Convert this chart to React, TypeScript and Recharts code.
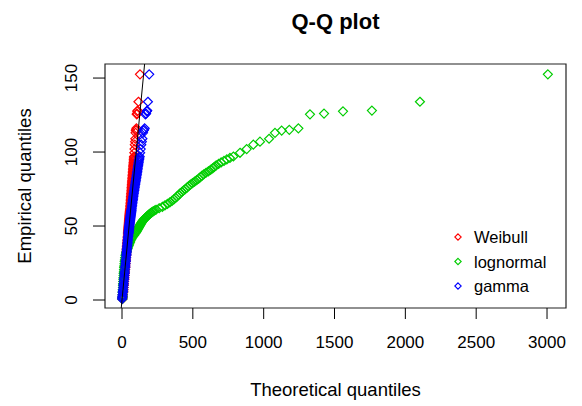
import { ReferenceArea, Scatter, ScatterChart, XAxis, YAxis } from 'recharts'

// sorted sample (empirical quantiles), shared by every fitted distribution
const empirical = [
  0.7, 1.5, 2.5, 3.5, 5, 6, 7, 8.5, 10, 11,
  12.5, 14, 15, 16.5, 18, 19, 20.5, 22, 23, 24.5,
  26, 27, 28.5, 30, 31, 32, 33, 34, 35, 36,
  37, 38, 39, 40, 41, 42, 43, 44, 45, 45.5,
  46, 46.5, 47, 47.5, 48, 48.5, 49, 49.5, 50, 50.5,
  51, 51.5, 52, 52.5, 53, 53.5, 54, 54.5, 55, 55.5,
  56, 56.5, 57, 57.5, 58, 58.5, 59, 59.5, 60, 60.5,
  61, 62, 63, 64, 65, 66, 67, 68, 69, 70,
  71, 72, 73, 74, 75, 76, 77, 78, 79, 80,
  81, 82, 83, 84, 85, 86, 87, 88, 89, 90,
  91, 92, 93, 94, 95, 96,
  97, 99.5, 102, 105, 107, 109, 113, 114.5, 115, 116, 125.5, 126, 127.5, 128, 134, 152.5,
]

// theoretical quantiles of each fit, same order as `empirical`
const weibullQ = [
  3, 4, 5, 6, 8, 9, 10, 11, 12.5, 13,
  14.5, 16, 16.5, 18, 19, 20, 21.5, 23, 23.5, 25,
  26, 27, 28, 29.5, 30, 31, 32, 33, 33.5, 34.5,
  35.5, 36.5, 37, 38, 39, 40, 41, 42, 42.5, 43,
  43.5, 44, 44.5, 45, 45.5, 45.8, 46, 46.5, 47, 47.5,
  48, 48.5, 49, 49.3, 49.5, 50, 50.5, 51, 51.5, 52,
  52.5, 52.8, 53, 53.5, 54, 54.5, 55, 55.5, 56, 56.5,
  57, 57.5, 58.5, 59, 60, 61, 61.5, 62.5, 63, 63.5,
  64.5, 65, 66, 67, 67.5, 68, 69, 70, 70.5, 71.5,
  72, 73, 74, 74.5, 75.5, 76.5, 77, 78, 78.5, 79.5,
  80, 81, 82, 83, 83.5, 84,
  85, 87, 88.5, 90.5, 92.5, 94, 96, 98, 100, 102, 104, 106, 108, 111, 116, 127,
]

const lognormalQ = [
  3, 3.5, 4, 4.5, 5, 5.5, 6, 7, 7.5, 8,
  9, 10, 10.5, 11.5, 12, 13, 14, 15, 16, 17.5,
  19, 20.5, 22, 25, 27, 30, 33, 36, 40, 44,
  48, 52, 56, 60, 65, 71, 78, 86, 93, 96,
  100, 103, 106, 109, 112, 115, 118, 121, 124, 127,
  130, 133, 136, 140, 143, 147, 151, 155, 160, 165,
  171, 176, 182, 188, 194, 200, 207, 214, 221, 230,
  240, 262, 285, 303, 321, 338, 353, 366, 378, 389,
  400, 410, 422, 434, 447, 459, 471, 483, 498, 512,
  527, 541, 553, 565, 578, 593, 610, 625, 640, 652,
  665, 682, 700, 720, 740, 762,
  786, 833, 880, 927, 974, 1038, 1080, 1127, 1181, 1245, 1327, 1426, 1560, 1764, 2103, 3006,
]

const gammaQ = [
  1, 2, 3, 4, 5.5, 6.5, 7.5, 9, 10.5, 11.5,
  13, 14.5, 15.5, 17, 18.5, 19.5, 21, 22.5, 23.5, 25,
  26.5, 27.5, 29, 30.5, 31.5, 32.5, 33.5, 34.5, 35.5, 36.5,
  37.5, 38.5, 39.5, 40.5, 41.5, 42.5, 43.5, 45, 46, 46.5,
  47, 47.5, 48, 48.8, 49.5, 50, 50.5, 51, 51.5, 52.3,
  53, 53.5, 54, 54.8, 55.5, 56.3, 57, 57.5, 58, 58.8,
  59.5, 60.3, 61, 61.8, 62.5, 63.3, 64, 64.8, 65.5, 66.3,
  67, 68.5, 70, 71.3, 73, 74, 75.5, 77, 78.5, 80,
  81.5, 83, 84.5, 86.5, 88, 89.5, 91, 93, 94.5, 96,
  98, 99.5, 101.5, 103, 105, 106.5, 108, 109.5, 111, 112.5,
  114, 116, 117.5, 119, 121, 123,
  124.5, 128, 132, 136, 140, 144, 148, 152, 156, 160, 165, 170, 175, 178, 183, 192,
]

const seriesNames = ['Weibull', 'lognormal', 'gamma']
const seriesColors = ['#FF0000', '#00CD00', '#0000FF']
const seriesQ = [weibullQ, lognormalQ, gammaQ]

const xTicks = [0, 500, 1000, 1500, 2000, 2500, 3000]
const yTicks = [0, 50, 100, 150]
const xDomain = [-120, 3134]
const yDomain = [-5.4, 159.5]

const font = '"Liberation Sans", Arial, sans-serif'
const W = 582
const H = 406

function diamond(color: string, r = 4.5, sw = 1.2) {
  return (props: any) => {
    const { cx, cy } = props
    if (cx == null || cy == null) return <g />
    return (
      <path
        d={`M${cx},${cy - r}L${cx + r},${cy}L${cx},${cy + r}L${cx - r},${cy}Z`}
        fill="none"
        stroke={color}
        strokeWidth={sw}
      />
    )
  }
}

function YTick({ y, payload }: any) {
  return (
    <text
      x={72}
      y={y}
      transform={`rotate(-90 72 ${y})`}
      textAnchor="middle"
      dominantBaseline="central"
      fontSize={17}
      fontFamily={font}
      fill="#000"
    >
      {payload.value}
    </text>
  )
}

export default function App() {
  const series = seriesNames.map((name, k) => ({
    name,
    color: seriesColors[k],
    data: empirical.map((y, i) => ({ x: seriesQ[k][i], y })),
  }))
  // y = x reference line across the visible range
  const diagonal = [
    { x: yDomain[0], y: yDomain[0] },
    { x: yDomain[1], y: yDomain[1] },
  ]

  return (
    <div style={{ position: 'absolute', left: 0, top: 0, width: W, height: H, background: '#fff' }}>
      <ScatterChart width={W} height={H} margin={{ top: 64, right: 16, bottom: 0, left: 0 }}>
        <XAxis
          type="number"
          dataKey="x"
          domain={xDomain}
          ticks={xTicks}
          allowDataOverflow
          interval={0}
          axisLine={false}
          tickSize={11}
          tickMargin={17}
          height={98}
          tickLine={{ stroke: '#000' }}
          tick={{ fill: '#000', fontSize: 17, fontFamily: font }}
        />
        <YAxis
          type="number"
          dataKey="y"
          domain={yDomain}
          ticks={yTicks}
          allowDataOverflow
          interval={0}
          axisLine={false}
          tickSize={12}
          width={105}
          tickLine={{ stroke: '#000' }}
          tick={<YTick />}
        />
        <ReferenceArea
          x1={xDomain[0]}
          x2={xDomain[1]}
          y1={yDomain[0]}
          y2={yDomain[1]}
          fill="none"
          stroke="#222"
          strokeWidth={1.2}
          fillOpacity={0}
        />
        {series.map((s) => (
          <Scatter key={s.name} name={s.name} data={s.data} shape={diamond(s.color)} isAnimationActive={false} />
        ))}
        <Scatter
          data={diagonal}
          fill="#000"
          line={{ stroke: '#000', strokeWidth: 1 }}
          shape={() => <g />}
          legendType="none"
          isAnimationActive={false}
        />
      </ScatterChart>
      <svg width={W} height={H} style={{ position: 'absolute', left: 0, top: 0, pointerEvents: 'none' }}>
        <text x={335.5} y={29} textAnchor="middle" fontSize={22} fontWeight="bold" fontFamily={font} fill="#000">
          Q-Q plot
        </text>
        <text x={335.5} y={396} textAnchor="middle" fontSize={18.5} fontFamily={font} fill="#000">
          Theoretical quantiles
        </text>
        <text transform="translate(31 186) rotate(-90)" textAnchor="middle" fontSize={18.5} fontFamily={font} fill="#000">
          Empirical quantiles
        </text>
        {seriesNames.map((name, k) => {
          const cy = 237 + k * 24.5
          return (
            <g key={name}>
              {diamond(seriesColors[k], 3.2, 1.1)({ cx: 458, cy })}
              <text x={474} y={cy} dominantBaseline="central" fontSize={16.5} fontFamily={font} fill="#000">
                {name}
              </text>
            </g>
          )
        })}
      </svg>
    </div>
  )
}
